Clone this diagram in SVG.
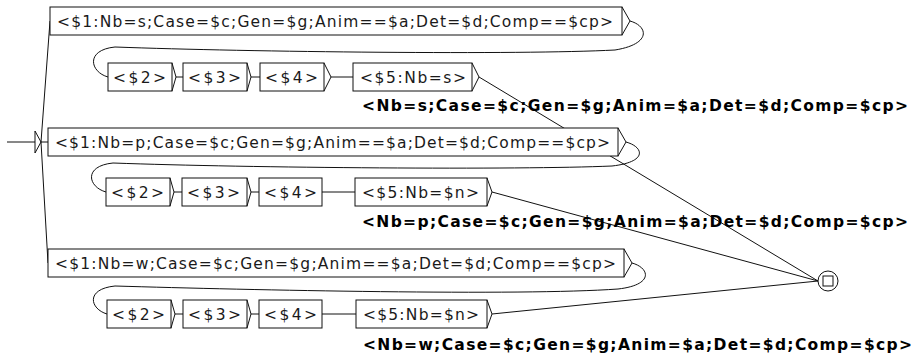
<svg xmlns="http://www.w3.org/2000/svg" width="922" height="360" viewBox="0 0 922 360">
  <style>
    .box { fill: #fff; stroke: #111; stroke-width: 1; }
    .tip { fill: none; stroke: #111; stroke-width: 1; }
    .edge { fill: none; stroke: #111; stroke-width: 1; }
    .lbl { font-family: "DejaVu Sans", "Liberation Sans", sans-serif; font-size: 15.5px; fill: #1a1a1a; }
    .out { font-family: "DejaVu Sans", "Liberation Sans", sans-serif; font-size: 15.5px; font-weight: bold; fill: #000; }
  </style>

  <!-- connectors -->
  <g id="edges">
    <!-- initial state to the three first boxes -->
    <line class="edge" x1="41" y1="142" x2="50" y2="21"/>
    <line class="edge" x1="41" y1="142" x2="48" y2="142"/>
    <line class="edge" x1="41" y1="142" x2="48" y2="263"/>
    <!-- loops back to the second rows -->
    <path class="edge" d="M630,21 C648,26 652,44 615,50 C520,55 250,52 115,47 C85,50 90,72 108,77"/>
    <path class="edge" d="M626,142 C644,147 648,162 612,166 C520,170 250,168 113,163 C83,166 88,187 106,192"/>
    <path class="edge" d="M632,263 C650,268 654,285 618,289 C520,296 250,290 115,286 C85,289 90,309 107,314"/>
    <!-- row 2 -->
    <line class="edge" x1="176" y1="77" x2="183" y2="77"/>
    <line class="edge" x1="251" y1="77" x2="260" y2="77"/>
    <line class="edge" x1="331" y1="77" x2="353" y2="77"/>
    <!-- row 4 -->
    <line class="edge" x1="174" y1="192" x2="182" y2="192"/>
    <line class="edge" x1="251" y1="192" x2="259" y2="192"/>
    <line class="edge" x1="322" y1="192" x2="355" y2="192"/>
    <!-- row 6 -->
    <line class="edge" x1="175" y1="314" x2="183" y2="314"/>
    <line class="edge" x1="251" y1="314" x2="259" y2="314"/>
    <line class="edge" x1="322" y1="314" x2="356" y2="314"/>
    <!-- to final state -->
    <line class="edge" x1="479" y1="77" x2="818" y2="281"/>
    <line class="edge" x1="492" y1="192" x2="818" y2="281"/>
    <line class="edge" x1="492" y1="314" x2="818" y2="281"/>
  </g>

  <!-- initial state -->
  <g id="initial">
    <line class="edge" x1="7" y1="142" x2="35" y2="142"/>
    <polyline class="tip" points="35,131 35,153"/>
    <polyline class="tip" points="35,131 41,142 35,153"/>
  </g>

  <!-- branch s -->
  <g id="s1">
    <rect class="box" x="50" y="7" width="572" height="28"/>
    <polyline class="tip" points="622,7 630,21 622,35"/>
    <text class="lbl" x="57" y="26.5" textLength="556" lengthAdjust="spacing">&lt;$1:Nb=s;Case=$c;Gen=$g;Anim==$a;Det=$d;Comp==$cp&gt;</text>
  </g>
  <g id="s2">
    <rect class="box" x="108" y="63" width="64" height="28"/>
    <polyline class="tip" points="172,63 176,77 172,91"/>
    <text class="lbl" x="113" y="82.5" textLength="53" lengthAdjust="spacing">&lt;$2&gt;</text>
  </g>
  <g id="s3">
    <rect class="box" x="183" y="63" width="64" height="28"/>
    <polyline class="tip" points="247,63 251,77 247,91"/>
    <text class="lbl" x="188" y="82.5" textLength="53" lengthAdjust="spacing">&lt;$3&gt;</text>
  </g>
  <g id="s4">
    <rect class="box" x="260" y="63" width="64" height="28"/>
    <polyline class="tip" points="324,63 331,77 324,91"/>
    <text class="lbl" x="265" y="82.5" textLength="53" lengthAdjust="spacing">&lt;$4&gt;</text>
  </g>
  <g id="s5">
    <rect class="box" x="353" y="63" width="119" height="28"/>
    <polyline class="tip" points="472,63 479,77 472,91"/>
    <text class="lbl" x="360" y="82.5" textLength="106" lengthAdjust="spacing">&lt;$5:Nb=s&gt;</text>
    <text class="out" x="362" y="110.5" textLength="546" lengthAdjust="spacing">&lt;Nb=s;Case=$c;Gen=$g;Anim=$a;Det=$d;Comp=$cp&gt;</text>
  </g>

  <!-- branch p -->
  <g id="p1">
    <rect class="box" x="48" y="128" width="570" height="28"/>
    <polyline class="tip" points="618,128 626,142 618,156"/>
    <text class="lbl" x="55" y="147.5" textLength="555" lengthAdjust="spacing">&lt;$1:Nb=p;Case=$c;Gen=$g;Anim==$a;Det=$d;Comp==$cp&gt;</text>
  </g>
  <g id="p2">
    <rect class="box" x="106" y="178" width="64" height="28"/>
    <polyline class="tip" points="170,178 174,192 170,206"/>
    <text class="lbl" x="111" y="197.5" textLength="53" lengthAdjust="spacing">&lt;$2&gt;</text>
  </g>
  <g id="p3">
    <rect class="box" x="182" y="178" width="65" height="28"/>
    <polyline class="tip" points="247,178 251,192 247,206"/>
    <text class="lbl" x="187" y="197.5" textLength="53" lengthAdjust="spacing">&lt;$3&gt;</text>
  </g>
  <g id="p4">
    <rect class="box" x="259" y="178" width="63" height="28"/>
    <text class="lbl" x="264" y="197.5" textLength="53" lengthAdjust="spacing">&lt;$4&gt;</text>
  </g>
  <g id="p5">
    <rect class="box" x="355" y="178" width="132" height="28"/>
    <polyline class="tip" points="487,178 492,192 487,206"/>
    <text class="lbl" x="362" y="197.5" textLength="117" lengthAdjust="spacing">&lt;$5:Nb=$n&gt;</text>
    <text class="out" x="362" y="226.5" textLength="546" lengthAdjust="spacing">&lt;Nb=p;Case=$c;Gen=$g;Anim=$a;Det=$d;Comp=$cp&gt;</text>
  </g>

  <!-- branch w -->
  <g id="w1">
    <rect class="box" x="48" y="249" width="576" height="28"/>
    <polyline class="tip" points="624,249 632,263 624,277"/>
    <text class="lbl" x="55" y="268.5" textLength="561" lengthAdjust="spacing">&lt;$1:Nb=w;Case=$c;Gen=$g;Anim==$a;Det=$d;Comp==$cp&gt;</text>
  </g>
  <g id="w2">
    <rect class="box" x="107" y="300" width="64" height="28"/>
    <polyline class="tip" points="171,300 175,314 171,328"/>
    <text class="lbl" x="112" y="319.5" textLength="53" lengthAdjust="spacing">&lt;$2&gt;</text>
  </g>
  <g id="w3">
    <rect class="box" x="183" y="300" width="64" height="28"/>
    <polyline class="tip" points="247,300 251,314 247,328"/>
    <text class="lbl" x="188" y="319.5" textLength="53" lengthAdjust="spacing">&lt;$3&gt;</text>
  </g>
  <g id="w4">
    <rect class="box" x="259" y="300" width="63" height="28"/>
    <text class="lbl" x="264" y="319.5" textLength="53" lengthAdjust="spacing">&lt;$4&gt;</text>
  </g>
  <g id="w5">
    <rect class="box" x="356" y="300" width="131" height="28"/>
    <polyline class="tip" points="487,300 492,314 487,328"/>
    <text class="lbl" x="363" y="319.5" textLength="116" lengthAdjust="spacing">&lt;$5:Nb=$n&gt;</text>
    <text class="out" x="363" y="349.5" textLength="549" lengthAdjust="spacing">&lt;Nb=w;Case=$c;Gen=$g;Anim=$a;Det=$d;Comp=$cp&gt;</text>
  </g>

  <!-- final state -->
  <g id="final">
    <circle class="box" cx="828" cy="281" r="10"/>
    <rect class="tip" x="823" y="276" width="10" height="10"/>
  </g>
</svg>
